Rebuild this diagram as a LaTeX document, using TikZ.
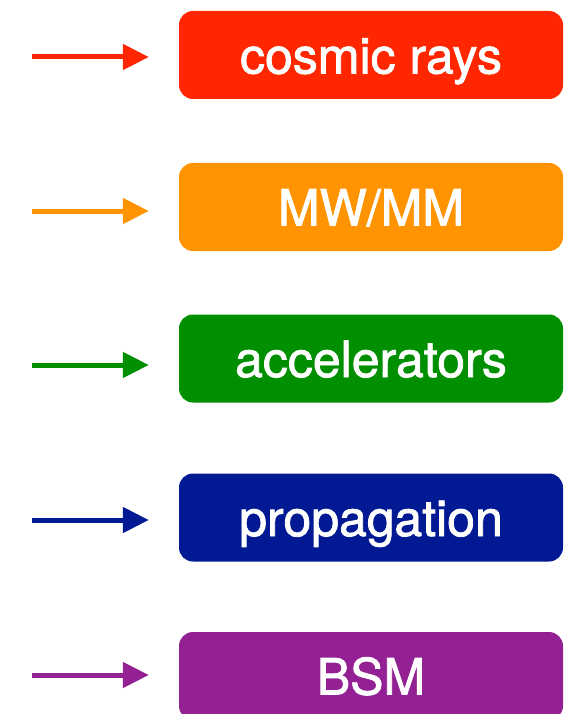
\documentclass[tikz,border=0pt]{standalone}
\usepackage{fontspec}
\setmainfont{TeX Gyre Heros}
\newfontfamily\boxfont[FakeBold=1.6]{TeX Gyre Heros}
\usepackage{tikz}
\usetikzlibrary{positioning,arrows.meta,calc}
\definecolor{crred}{HTML}{FF2600}
\definecolor{mworange}{HTML}{FF9300}
\definecolor{accgreen}{HTML}{008F00}
\definecolor{propblue}{HTML}{011993}
\definecolor{bsmpurple}{HTML}{942193}
\tikzset{
    topic/.style = {
        shape=rectangle,
        rounded corners=14pt,
        minimum height=88pt,
        minimum width=384pt,
        inner sep=0pt,
        text height=37pt,
        text depth=0pt,
        text=white,
        font=\boxfont\fontsize{50}{54}\selectfont
    },
    feed/.style = {
        line width=5pt,
        shorten >=30pt,
        -{Triangle[length=26pt,width=25pt]}
    },
}
\begin{document}
\begin{tikzpicture}[x=1pt,y=-1pt]
                \useasboundingbox (0,0) rectangle (572,714);
                \node[topic,fill=crred] (cosmic) at (371,55) {cosmic rays};
                \node[topic,fill=mworange] (mwmm) at (371,207) {MW/MM};
                \node[topic,fill=accgreen] (accel) at (371,358.5) {accelerators};
                \node[topic,fill=propblue] (prop) at (371,517.5) {propagation};
                \node[topic,fill=bsmpurple] (bsm) at (371,676) {BSM};

                \coordinate (incosmic) at (32,57);
                \coordinate (inmwmm) at (32,211);
                \coordinate (inaccel) at (32,365);
                \coordinate (inprop) at (32,520);
                \coordinate (inbsm) at (32,675);

                \path[draw, feed, color=crred] (incosmic) -- (incosmic -| cosmic.west);
                \path[draw, feed, color=mworange] (inmwmm) -- (inmwmm -| mwmm.west);
                \path[draw, feed, color=accgreen] (inaccel) -- (inaccel -| accel.west);
                \path[draw, feed, color=propblue] (inprop) -- (inprop -| prop.west);
                \path[draw, feed, color=bsmpurple] (inbsm) -- (inbsm -| bsm.west);
            \end{tikzpicture}
\end{document}
